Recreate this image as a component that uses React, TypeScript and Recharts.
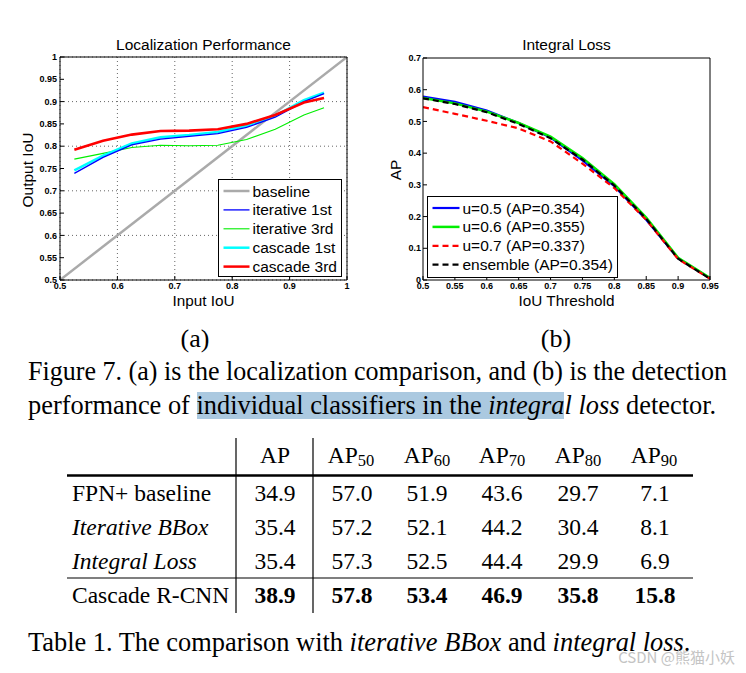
import React from "react";
import { CartesianGrid, Line, LineChart, XAxis, YAxis } from "recharts";

// (a) Localization Performance
const inputIoU = [0.525, 0.575, 0.625, 0.675, 0.725, 0.775, 0.825, 0.875, 0.925, 0.96];
const baselineIoU = [0.5, 1];
const iterative1st = [0.739, 0.775, 0.803, 0.816, 0.822, 0.828, 0.842, 0.865, 0.9, 0.918];
const iterative3rd = [0.771, 0.784, 0.797, 0.802, 0.801, 0.802, 0.815, 0.838, 0.87, 0.886];
const cascade1st = [0.746, 0.779, 0.806, 0.82, 0.825, 0.832, 0.846, 0.868, 0.903, 0.92];
const cascade3rd = [0.792, 0.812, 0.826, 0.834, 0.835, 0.838, 0.85, 0.87, 0.898, 0.908];
const locXTicks = [0.5, 0.6, 0.7, 0.8, 0.9, 1];
const locYTicks = [0.5, 0.55, 0.6, 0.65, 0.7, 0.75, 0.8, 0.85, 0.9, 0.95, 1];

// (b) Integral Loss
const iouThreshold = [0.5, 0.55, 0.6, 0.65, 0.7, 0.75, 0.8, 0.85, 0.9, 0.95];
const apU05 = [0.578, 0.562, 0.534, 0.495, 0.449, 0.377, 0.296, 0.19, 0.068, 0.005];
const apU06 = [0.574, 0.557, 0.531, 0.495, 0.452, 0.385, 0.302, 0.197, 0.07, 0.006];
const apU07 = [0.545, 0.524, 0.502, 0.478, 0.437, 0.367, 0.29, 0.19, 0.066, 0.004];
const apEnsemble = [0.573, 0.555, 0.529, 0.492, 0.447, 0.38, 0.298, 0.193, 0.067, 0.004];
const thrXTicks = [0.5, 0.55, 0.6, 0.65, 0.7, 0.75, 0.8, 0.85, 0.9, 0.95];
const apYTicks = [0, 0.1, 0.2, 0.3, 0.4, 0.5, 0.6, 0.7];

// Table 1
const tableCols = ["", "50", "60", "70", "80", "90"];
const tableRows = ["FPN+ baseline", "Iterative BBox", "Integral Loss", "Cascade R-CNN"];
const tableItalic = [false, true, true, false];
const tableValues = [
  ["34.9", "57.0", "51.9", "43.6", "29.7", "7.1"],
  ["35.4", "57.2", "52.1", "44.2", "30.4", "8.1"],
  ["35.4", "57.3", "52.5", "44.4", "29.9", "6.9"],
  ["38.9", "57.8", "53.4", "46.9", "35.8", "15.8"],
];

const locLegend = [
  { name: "baseline", color: "#aaaaaa", width: 2.5, dash: "" },
  { name: "iterative 1st", color: "#0000ff", width: 1.3, dash: "" },
  { name: "iterative 3rd", color: "#00ee00", width: 1.1, dash: "" },
  { name: "cascade 1st", color: "#00ffff", width: 2.5, dash: "" },
  { name: "cascade 3rd", color: "#ff0000", width: 2.5, dash: "" },
];
const apLegend = [
  { name: "u=0.5 (AP=0.354)", color: "#0000ff", width: 2.2, dash: "" },
  { name: "u=0.6 (AP=0.355)", color: "#00ee00", width: 2.5, dash: "" },
  { name: "u=0.7 (AP=0.337)", color: "#ff0000", width: 2.2, dash: "6 4" },
  { name: "ensemble (AP=0.354)", color: "#000000", width: 2.2, dash: "6 4" },
];

const pts = (xs: number[], ys: number[]) => xs.map((x, i) => ({ x, y: ys[i] }));
const fmt = (v: number) => String(v);
const sans = "'Liberation Sans', Arial, sans-serif";
const serif = "'Liberation Serif', 'Times New Roman', serif";
const tickStyle = { fontSize: 9, fontWeight: 700, fill: "#000", fontFamily: sans };
const black = { stroke: "#000" };

function LegendBox({ x, y, w, h, items, sampleW }: any) {
  return (
    <g>
      <rect x={x} y={y} width={w} height={h} fill="#fff" stroke="#000" strokeWidth={1} />
      {items.map((it: any, i: number) => {
        const cy = y + 11.5 + i * 18.9;
        return (
          <g key={it.name}>
            <line x1={x + 5} x2={x + 5 + sampleW} y1={cy} y2={cy} stroke={it.color} strokeWidth={it.width} strokeDasharray={it.dash || undefined} />
            <text x={x + 8 + sampleW} y={cy} dominantBaseline="central" fontSize={15.5} fontFamily={sans} fill="#000">
              {it.name}
            </text>
          </g>
        );
      })}
    </g>
  );
}

export default function App() {
  return (
    <div style={{ position: "absolute", left: 0, top: 0, width: 746, height: 673, background: "#fff", overflow: "hidden" }}>
      <div style={{ position: "absolute", left: 0, top: 0 }}>
        <LineChart width={360} height={320} margin={{ top: 52, left: 20, right: 8, bottom: 15 }}>
          <CartesianGrid strokeDasharray="1 3" stroke="#666" />
          <XAxis type="number" dataKey="x" domain={[0.5, 1]} ticks={locXTicks} tickFormatter={fmt} height={25} tickSize={-4} tickMargin={7} tick={tickStyle} axisLine={black} tickLine={black} allowDataOverflow />
          <XAxis xAxisId="top" orientation="top" type="number" dataKey="x" domain={[0.5, 1]} ticks={locXTicks} tickFormatter={() => ""} height={5} tickSize={-4} axisLine={black} tickLine={black} />
          <YAxis type="number" domain={[0.5, 1]} ticks={locYTicks} tickFormatter={fmt} width={40} tickSize={-4} tickMargin={7} tick={tickStyle} axisLine={black} tickLine={black} allowDataOverflow />
          <YAxis yAxisId="right" orientation="right" type="number" domain={[0.5, 1]} ticks={locYTicks} tickFormatter={() => ""} width={5} tickSize={-4} axisLine={black} tickLine={black} />
          <Line data={pts(baselineIoU, baselineIoU)} dataKey="y" stroke="#aaaaaa" strokeWidth={2.5} dot={false} isAnimationActive={false} />
          <Line data={pts(inputIoU, iterative3rd)} dataKey="y" stroke="#00ee00" strokeWidth={1.1} dot={false} isAnimationActive={false} />
          <Line data={pts(inputIoU, cascade1st)} dataKey="y" stroke="#00ffff" strokeWidth={2.6} dot={false} isAnimationActive={false} />
          <Line data={pts(inputIoU, iterative1st)} dataKey="y" stroke="#0000ff" strokeWidth={1.3} dot={false} isAnimationActive={false} />
          <Line data={pts(inputIoU, cascade3rd)} dataKey="y" stroke="#ff0000" strokeWidth={2.6} dot={false} isAnimationActive={false} />
        </LineChart>
      </div>
      <div style={{ position: "absolute", left: 370, top: 0 }}>
        <LineChart width={360} height={320} margin={{ top: 53, left: 13, right: 15, bottom: 15 }}>
          <XAxis type="number" dataKey="x" domain={[0.5, 0.95]} ticks={thrXTicks} tickFormatter={fmt} height={25} tickSize={-4} tickMargin={7} tick={tickStyle} axisLine={black} tickLine={black} allowDataOverflow />
          <XAxis xAxisId="top" orientation="top" type="number" dataKey="x" domain={[0.5, 0.95]} ticks={thrXTicks} tickFormatter={() => ""} height={5} tickSize={-4} axisLine={black} tickLine={black} />
          <YAxis type="number" domain={[0, 0.7]} ticks={apYTicks} tickFormatter={fmt} width={40} tickSize={-4} tickMargin={6} tick={tickStyle} axisLine={black} tickLine={black} allowDataOverflow />
          <YAxis yAxisId="right" orientation="right" type="number" domain={[0, 0.7]} ticks={apYTicks} tickFormatter={() => ""} width={5} tickSize={-4} axisLine={black} tickLine={black} />
          <Line data={pts(iouThreshold, apU05)} dataKey="y" stroke="#0000ff" strokeWidth={2.2} dot={false} isAnimationActive={false} />
          <Line data={pts(iouThreshold, apU06)} dataKey="y" stroke="#00ee00" strokeWidth={2.5} dot={false} isAnimationActive={false} />
          <Line data={pts(iouThreshold, apU07)} dataKey="y" stroke="#ff0000" strokeWidth={2.2} strokeDasharray="6 4" dot={false} isAnimationActive={false} />
          <Line data={pts(iouThreshold, apEnsemble)} dataKey="y" stroke="#000000" strokeWidth={2.2} strokeDasharray="6 4" dot={false} isAnimationActive={false} />
        </LineChart>
      </div>
      <svg width={746} height={673} style={{ position: "absolute", left: 0, top: 0, pointerEvents: "none" }}>
        {/* chart titles and axis labels */}
        <g fontFamily={sans} fill="#000" textAnchor="middle" dominantBaseline="central">
          <text x={203.5} y={44} fontSize={15.5}>Localization Performance</text>
          <text x={566.5} y={44} fontSize={15.5}>Integral Loss</text>
          <text x={203.5} y={300} fontSize={15.3}>Input IoU</text>
          <text x={566.5} y={300} fontSize={15.3}>IoU Threshold</text>
          <text x={27} y={170} fontSize={15.5} transform="rotate(-90 27 170)">Output IoU</text>
          <text x={395} y={170} fontSize={15.5} transform="rotate(-90 395 170)">AP</text>
        </g>
        <LegendBox x={218.5} y={179.5} w={123} h={97} items={locLegend} sampleW={26} />
        <LegendBox x={427.5} y={196.5} w={190} h={81} items={apLegend} sampleW={27} />

        {/* figure caption */}
        <rect x={197} y={392} width={367} height={27} fill="#abc9e0" />
        <g fontFamily={serif} fill="#000" dominantBaseline="central">
          <text x={195} y={338} fontSize={26} textAnchor="middle">(a)</text>
          <text x={556} y={338} fontSize={26} textAnchor="middle">(b)</text>
          <text x={28} y={371} fontSize={26.4} textLength={699} lengthAdjust="spacingAndGlyphs">
            Figure 7. (a) is the localization comparison, and (b) is the detection
          </text>
          <text x={28} y={405} fontSize={26.4}>
            performance of individual classifiers in the <tspan fontStyle="italic">integral loss</tspan> detector.
          </text>
        </g>

        {/* table */}
        <line x1={236} x2={236} y1={438} y2={613} stroke="#000" strokeWidth={1.2} />
        <line x1={313} x2={313} y1={438} y2={613} stroke="#000" strokeWidth={1.2} />
        <line x1={67} x2={693} y1={475.5} y2={475.5} stroke="#000" strokeWidth={2.6} />
        <line x1={67} x2={693} y1={578} y2={578} stroke="#000" strokeWidth={1.2} />
        <g fontFamily={serif} fill="#000" dominantBaseline="central" fontSize={23.5}>
          {tableCols.map((sub, j) => (
            <text key={"h" + j} x={[275, 351, 427, 502, 578, 654][j]} y={455} textAnchor="middle">
              AP{sub ? <tspan fontSize={16.5} dy={5}>{sub}</tspan> : null}
            </text>
          ))}
          {tableRows.map((r, i) => (
            <text key={r} x={72} y={493 + i * 34} fontStyle={tableItalic[i] ? "italic" : "normal"}>
              {r}
            </text>
          ))}
          {tableValues.map((row, i) =>
            row.map((v, j) => (
              <text key={i + "-" + j} x={[275, 352, 427, 502, 578, 655][j]} y={493 + i * 34} textAnchor="middle" fontWeight={i === 3 ? 700 : 400}>
                {v}
              </text>
            ))
          )}
          <text x={28} y={642} fontSize={26.4}>
            Table 1. The comparison with <tspan fontStyle="italic">iterative BBox</tspan> and <tspan fontStyle="italic">integral loss</tspan>.
          </text>
        </g>
        <text x={735} y={656} textAnchor="end" dominantBaseline="central" fontSize={15} fill="#c4c4c4" fontFamily="'Noto Sans CJK SC', sans-serif">
          CSDN @熊猫小妖
        </text>
      </svg>
    </div>
  );
}
